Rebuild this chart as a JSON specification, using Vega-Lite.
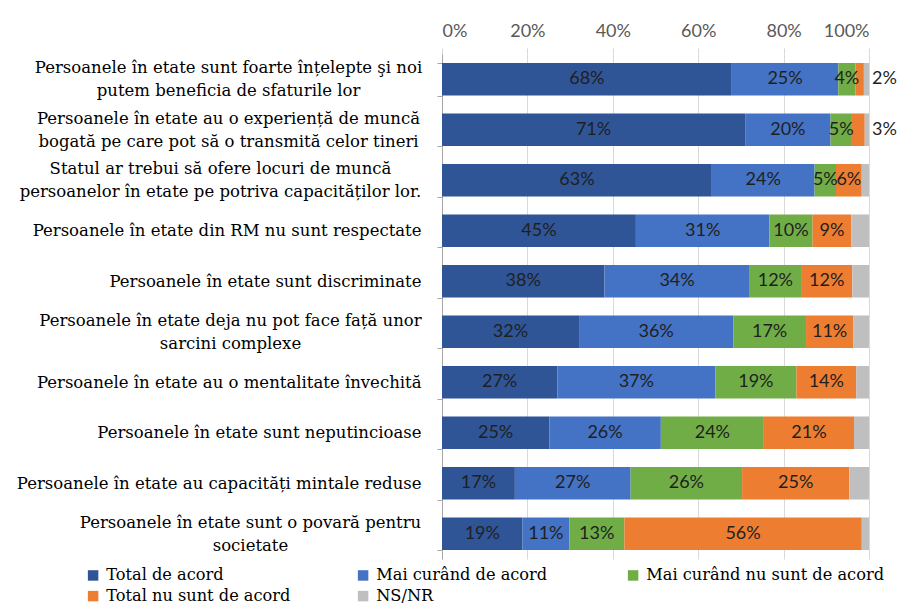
{
  "$schema": "https://vega.github.io/schema/vega-lite/v6.json",
  "width": 427,
  "height": 505,
  "autosize": {"type": "none"},
  "padding": {"left": 442, "top": 54, "right": 36, "bottom": 47},
  "background": "white",
  "config": {"view": {"stroke": null}},
  "data": {"values": [
    {"q": "Persoanele în etate sunt foarte înțelepte şi noi|putem beneficia de sfaturile lor", "c": "Total de acord", "k": 1, "v": 0.68},
    {"q": "Persoanele în etate sunt foarte înțelepte şi noi|putem beneficia de sfaturile lor", "c": "Mai curând de acord", "k": 2, "v": 0.25},
    {"q": "Persoanele în etate sunt foarte înțelepte şi noi|putem beneficia de sfaturile lor", "c": "Mai curând nu sunt de acord", "k": 3, "v": 0.04},
    {"q": "Persoanele în etate sunt foarte înțelepte şi noi|putem beneficia de sfaturile lor", "c": "Total nu sunt de acord", "k": 4, "v": 0.02},
    {"q": "Persoanele în etate sunt foarte înțelepte şi noi|putem beneficia de sfaturile lor", "c": "NS/NR", "k": 5, "v": 0.012},
    {"q": "Persoanele în etate au o experiență de muncă|bogată pe care pot să o transmită celor tineri", "c": "Total de acord", "k": 1, "v": 0.71},
    {"q": "Persoanele în etate au o experiență de muncă|bogată pe care pot să o transmită celor tineri", "c": "Mai curând de acord", "k": 2, "v": 0.20},
    {"q": "Persoanele în etate au o experiență de muncă|bogată pe care pot să o transmită celor tineri", "c": "Mai curând nu sunt de acord", "k": 3, "v": 0.05},
    {"q": "Persoanele în etate au o experiență de muncă|bogată pe care pot să o transmită celor tineri", "c": "Total nu sunt de acord", "k": 4, "v": 0.03},
    {"q": "Persoanele în etate au o experiență de muncă|bogată pe care pot să o transmită celor tineri", "c": "NS/NR", "k": 5, "v": 0.01},
    {"q": "Statul ar trebui să ofere locuri de muncă|persoanelor în etate pe potriva capacităților lor.", "c": "Total de acord", "k": 1, "v": 0.63},
    {"q": "Statul ar trebui să ofere locuri de muncă|persoanelor în etate pe potriva capacităților lor.", "c": "Mai curând de acord", "k": 2, "v": 0.24},
    {"q": "Statul ar trebui să ofere locuri de muncă|persoanelor în etate pe potriva capacităților lor.", "c": "Mai curând nu sunt de acord", "k": 3, "v": 0.05},
    {"q": "Statul ar trebui să ofere locuri de muncă|persoanelor în etate pe potriva capacităților lor.", "c": "Total nu sunt de acord", "k": 4, "v": 0.06},
    {"q": "Statul ar trebui să ofere locuri de muncă|persoanelor în etate pe potriva capacităților lor.", "c": "NS/NR", "k": 5, "v": 0.017},
    {"q": "Persoanele în etate din RM nu sunt respectate", "c": "Total de acord", "k": 1, "v": 0.45},
    {"q": "Persoanele în etate din RM nu sunt respectate", "c": "Mai curând de acord", "k": 2, "v": 0.31},
    {"q": "Persoanele în etate din RM nu sunt respectate", "c": "Mai curând nu sunt de acord", "k": 3, "v": 0.10},
    {"q": "Persoanele în etate din RM nu sunt respectate", "c": "Total nu sunt de acord", "k": 4, "v": 0.09},
    {"q": "Persoanele în etate din RM nu sunt respectate", "c": "NS/NR", "k": 5, "v": 0.041},
    {"q": "Persoanele în etate sunt discriminate", "c": "Total de acord", "k": 1, "v": 0.38},
    {"q": "Persoanele în etate sunt discriminate", "c": "Mai curând de acord", "k": 2, "v": 0.34},
    {"q": "Persoanele în etate sunt discriminate", "c": "Mai curând nu sunt de acord", "k": 3, "v": 0.12},
    {"q": "Persoanele în etate sunt discriminate", "c": "Total nu sunt de acord", "k": 4, "v": 0.12},
    {"q": "Persoanele în etate sunt discriminate", "c": "NS/NR", "k": 5, "v": 0.039},
    {"q": "Persoanele în etate deja nu pot face față unor|sarcini complexe", "c": "Total de acord", "k": 1, "v": 0.32},
    {"q": "Persoanele în etate deja nu pot face față unor|sarcini complexe", "c": "Mai curând de acord", "k": 2, "v": 0.36},
    {"q": "Persoanele în etate deja nu pot face față unor|sarcini complexe", "c": "Mai curând nu sunt de acord", "k": 3, "v": 0.17},
    {"q": "Persoanele în etate deja nu pot face față unor|sarcini complexe", "c": "Total nu sunt de acord", "k": 4, "v": 0.11},
    {"q": "Persoanele în etate deja nu pot face față unor|sarcini complexe", "c": "NS/NR", "k": 5, "v": 0.037},
    {"q": "Persoanele în etate au o mentalitate învechită", "c": "Total de acord", "k": 1, "v": 0.27},
    {"q": "Persoanele în etate au o mentalitate învechită", "c": "Mai curând de acord", "k": 2, "v": 0.37},
    {"q": "Persoanele în etate au o mentalitate învechită", "c": "Mai curând nu sunt de acord", "k": 3, "v": 0.19},
    {"q": "Persoanele în etate au o mentalitate învechită", "c": "Total nu sunt de acord", "k": 4, "v": 0.14},
    {"q": "Persoanele în etate au o mentalitate învechită", "c": "NS/NR", "k": 5, "v": 0.03},
    {"q": "Persoanele în etate sunt neputincioase", "c": "Total de acord", "k": 1, "v": 0.25},
    {"q": "Persoanele în etate sunt neputincioase", "c": "Mai curând de acord", "k": 2, "v": 0.26},
    {"q": "Persoanele în etate sunt neputincioase", "c": "Mai curând nu sunt de acord", "k": 3, "v": 0.24},
    {"q": "Persoanele în etate sunt neputincioase", "c": "Total nu sunt de acord", "k": 4, "v": 0.21},
    {"q": "Persoanele în etate sunt neputincioase", "c": "NS/NR", "k": 5, "v": 0.035},
    {"q": "Persoanele în etate au capacități mintale reduse", "c": "Total de acord", "k": 1, "v": 0.17},
    {"q": "Persoanele în etate au capacități mintale reduse", "c": "Mai curând de acord", "k": 2, "v": 0.27},
    {"q": "Persoanele în etate au capacități mintale reduse", "c": "Mai curând nu sunt de acord", "k": 3, "v": 0.26},
    {"q": "Persoanele în etate au capacități mintale reduse", "c": "Total nu sunt de acord", "k": 4, "v": 0.25},
    {"q": "Persoanele în etate au capacități mintale reduse", "c": "NS/NR", "k": 5, "v": 0.046},
    {"q": "Persoanele în etate sunt o povară pentru|societate", "c": "Total de acord", "k": 1, "v": 0.19},
    {"q": "Persoanele în etate sunt o povară pentru|societate", "c": "Mai curând de acord", "k": 2, "v": 0.11},
    {"q": "Persoanele în etate sunt o povară pentru|societate", "c": "Mai curând nu sunt de acord", "k": 3, "v": 0.13},
    {"q": "Persoanele în etate sunt o povară pentru|societate", "c": "Total nu sunt de acord", "k": 4, "v": 0.56},
    {"q": "Persoanele în etate sunt o povară pentru|societate", "c": "NS/NR", "k": 5, "v": 0.017}
  ]},
  "encoding": {
    "y": {
      "field": "q", "type": "nominal", "sort": null, "title": null,
      "scale": {"paddingInner": 0.356, "paddingOuter": 0.178},
      "axis": {
        "domainColor": "#a6a6a6", "tickColor": "#a6a6a6", "tickBand": "extent", "tickSize": 5,
        "labelFont": "DejaVu Serif", "labelFontSize": 16.5, "labelColor": "#000000",
        "labelLimit": 500, "labelLineHeight": 23,
        "labelOffset": {"condition": {"test": "datum.value && indexof(datum.value, '|') >= 0", "value": -11.5}, "value": 0},
        "labelAlign": {"condition": {"test": "datum.value && indexof(datum.value, '|') >= 0", "value": "center"}, "value": "right"},
        "labelPadding": {"condition": [
          {"test": "datum.value && indexof(datum.value, 'sfaturile') >= 0", "value": 209},
          {"test": "datum.value && indexof(datum.value, 'tineri') >= 0", "value": 209},
          {"test": "datum.value && indexof(datum.value, 'Statul') >= 0", "value": 217},
          {"test": "datum.value && indexof(datum.value, 'sarcini') >= 0", "value": 207},
          {"test": "datum.value && indexof(datum.value, 'societate') >= 0", "value": 187}
        ], "value": 16},
        "labelExpr": "datum.value ? split(datum.value, '|') : ''"
      }
    }
  },
  "layer": [
    {
      "mark": {"type": "bar"},
      "encoding": {
        "x": {
          "field": "v", "type": "quantitative", "stack": "normalize", "title": null,
          "scale": {"domain": [0, 1]},
          "axis": {
            "orient": "top", "values": [0, 0.2, 0.4, 0.6, 0.8, 1], "format": ".0%",
            "grid": true, "gridColor": "#d9d9d9", "domain": false,
            "tickColor": "#d9d9d9", "tickSize": 6,
            "labelFont": "Lato", "labelFontSize": 18, "labelColor": "#595959", "labelPadding": 8
          }
        },
        "order": {"field": "k", "type": "quantitative", "sort": "ascending"},
        "color": {
          "field": "c", "type": "nominal",
          "sort": ["Total de acord", "Mai curând de acord", "Mai curând nu sunt de acord", "Total nu sunt de acord", "NS/NR"],
          "scale": {
            "domain": ["Total de acord", "Mai curând de acord", "Mai curând nu sunt de acord", "Total nu sunt de acord", "NS/NR"],
            "range": ["#2f5597", "#4472c4", "#70ad47", "#ed7d31", "#bfbfbf"]
          },
          "legend": {
            "orient": "none", "legendX": -357, "legendY": 513, "columns": 3, "direction": "horizontal",
            "title": null, "symbolType": "square", "symbolSize": 110, "symbolStrokeWidth": 0,
            "labelFont": "DejaVu Serif", "labelFontSize": 16.2, "labelColor": "#000000",
            "labelOffset": 5, "columnPadding": 10, "rowPadding": 4, "gridAlign": "all", "labelLimit": 400
          }
        }
      }
    },
    {
      "mark": {"type": "text", "font": "Lato", "fontSize": 18, "baseline": "middle", "align": "center", "color": "#1f1f1f"},
      "encoding": {
        "x": {"field": "v", "type": "quantitative", "stack": "normalize", "bandPosition": 0.5},
        "order": {"field": "k", "type": "quantitative", "sort": "ascending"},
        "detail": {"field": "c", "type": "nominal"},
        "text": {
          "condition": {"test": "datum.c === 'NS/NR' || (datum.c === 'Total nu sunt de acord' && datum.v < 0.04)", "value": ""},
          "field": "v", "type": "quantitative", "format": ".0%"
        }
      }
    },
    {
      "transform": [{"filter": "datum.c === 'Total nu sunt de acord' && datum.v < 0.04"}],
      "mark": {"type": "text", "font": "Lato", "fontSize": 18, "baseline": "middle", "align": "left", "dx": 3, "color": "#1f1f1f"},
      "encoding": {
        "x": {"datum": 1, "type": "quantitative"},
        "text": {"field": "v", "type": "quantitative", "format": ".0%"}
      }
    }
  ]
}
